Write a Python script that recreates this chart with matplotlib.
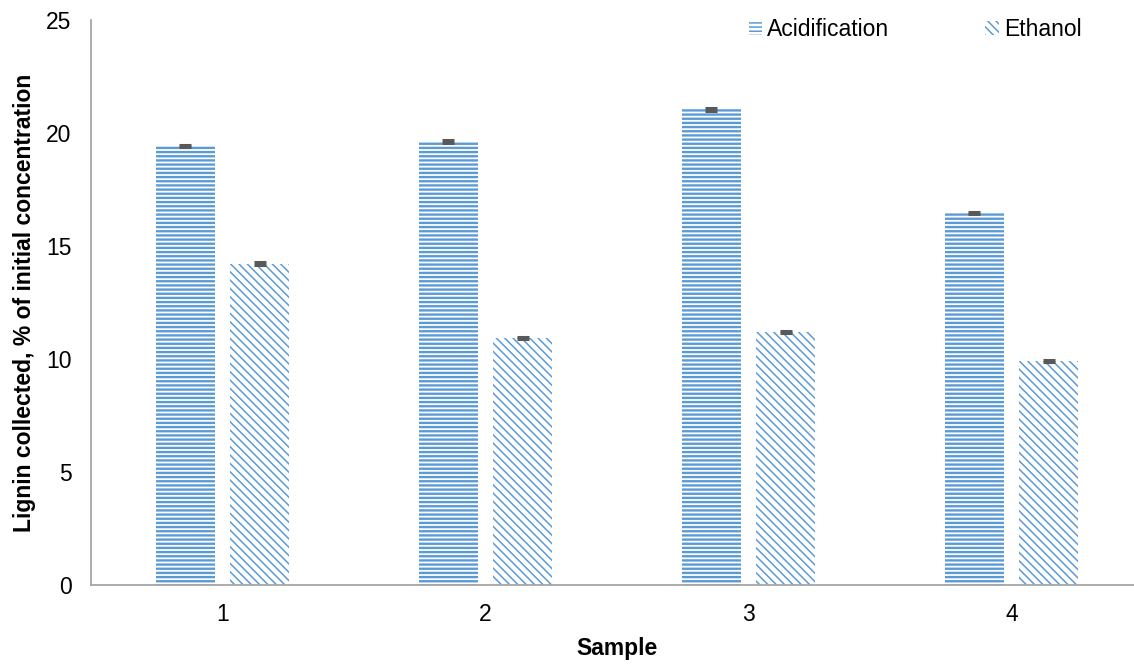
import matplotlib
matplotlib.use("Agg")
import matplotlib.pyplot as plt
import numpy as np

# --- datos ---
samples = ["1", "2", "3", "4"]
acidification = [19.42, 19.62, 21.04, 16.46]
ethanol = [14.22, 10.92, 11.19, 9.91]
err_acid = [0.05, 0.05, 0.05, 0.05]
err_eth = [0.05, 0.05, 0.05, 0.05]

plt.rcParams["font.family"] = ["Liberation Sans", "DejaVu Sans"]
azul = "#5B9BD5"
gris = "#A6A6A6"

fig = plt.figure(figsize=(11.34, 6.64), dpi=100)
ax = fig.add_axes([91 / 1134, 79 / 664, 1052 / 1134, 565 / 664])

x = np.arange(len(samples))
w = 0.224
off = 0.141

plt.rcParams["hatch.linewidth"] = 1.7
b1 = ax.bar(x - off, acidification, w, color="white", edgecolor=azul,
            linewidth=0, hatch="----", label="Acidification")
plt.rcParams["hatch.linewidth"] = 1.1
b2 = ax.bar(x + off, ethanol, w, color="white", edgecolor=azul,
            linewidth=0, hatch="\\\\\\\\", label="Ethanol")

ax.errorbar(x - off, acidification, yerr=err_acid, fmt="none",
            ecolor="#595959", elinewidth=1.5, capsize=4.5, capthick=2.2)
ax.errorbar(x + off, ethanol, yerr=err_eth, fmt="none",
            ecolor="#595959", elinewidth=1.5, capsize=4.5, capthick=2.2)

ax.set_xlim(-0.5, 3.5)
ax.set_ylim(0, 25)
ax.set_yticks([0, 5, 10, 15, 20, 25])
ax.set_xticks(x)
ax.set_xticklabels(samples)

for s in ["top", "right"]:
    ax.spines[s].set_visible(False)
for s in ["left", "bottom"]:
    ax.spines[s].set_color(gris)
    ax.spines[s].set_linewidth(1.3)

ax.tick_params(axis="y", length=0, pad=14, labelsize=16.5)
ax.tick_params(axis="x", length=0, pad=13, labelsize=16.5)

ax.set_xlabel("Sample", fontsize=16.5, fontweight="bold", labelpad=8)
ax.set_ylabel("Lignin collected, % of initial concentration",
              fontsize=16.5, fontweight="bold", labelpad=7)

ax.legend(loc="upper right", bbox_to_anchor=(0.961, 1.04), ncol=2,
          frameon=False, fontsize=16.5, handlelength=0.6, handleheight=0.6,
          handletextpad=0.2, columnspacing=4.2)

fig.savefig("out.png", dpi=100)
